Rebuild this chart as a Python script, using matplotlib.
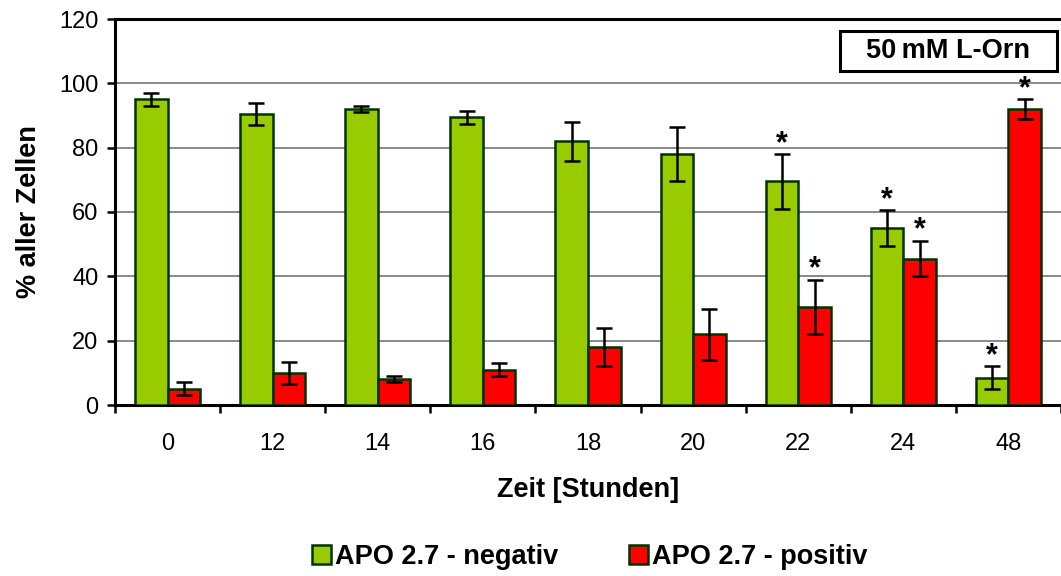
import numpy as np
import matplotlib.pyplot as plt
from matplotlib.patches import Rectangle

plt.rcParams['font.family'] = ['Liberation Sans', 'DejaVu Sans']

zeiten = ['0', '12', '14', '16', '18', '20', '22', '24', '48']
negativ = [95, 90.5, 92, 89.5, 82, 78, 69.5, 55, 8.5]
negativ_err = [2, 3.5, 1, 2, 6, 8.5, 8.5, 5.5, 3.5]
positiv = [5, 10, 8, 11, 18, 22, 30.5, 45.5, 92]
positiv_err = [2, 3.5, 1, 2, 6, 8, 8.5, 5.5, 3]
sig_neg = [False, False, False, False, False, False, True, True, True]
sig_pos = [False, False, False, False, False, False, True, True, True]

fig = plt.figure(figsize=(10.61, 5.76), dpi=100)
ax = fig.add_axes([115 / 1061, 1 - 405 / 576, 1 - 115 / 1061, (405 - 19) / 576])

x = np.arange(len(zeiten))
w = 0.31
edge = '#003300'
ax.bar(x - w / 2, negativ, w, color='#99CC00', edgecolor=edge, linewidth=1.8,
       label='APO 2.7 - negativ', zorder=3)
ax.bar(x + w / 2, positiv, w, color='#FF0000', edgecolor=edge, linewidth=1.8,
       label='APO 2.7 - positiv', zorder=3)
ax.errorbar(x - w / 2, negativ, yerr=negativ_err, fmt='none', ecolor='black',
            elinewidth=1.8, capsize=6, capthick=1.8, zorder=4)
ax.errorbar(x + w / 2, positiv, yerr=positiv_err, fmt='none', ecolor='black',
            elinewidth=1.8, capsize=6, capthick=1.8, zorder=4)

# significance stars just above the error bars
for i in range(len(zeiten)):
    if sig_neg[i]:
        ax.text(x[i] - w / 2, negativ[i] + negativ_err[i] + 3.2, '*', ha='center',
                va='center', fontsize=22, fontweight='bold')
    if sig_pos[i]:
        ax.text(x[i] + w / 2, positiv[i] + positiv_err[i] + 3.2, '*', ha='center',
                va='center', fontsize=22, fontweight='bold')

ax.set_xlim(-0.5, len(zeiten) - 0.5)
ax.set_ylim(0, 120)
ax.set_yticks(range(0, 121, 20))
ax.tick_params(axis='y', labelsize=17, direction='out', length=6, width=1.8, pad=6)
ax.set_xticks(x)
ax.set_xticklabels(zeiten, fontsize=17)
ax.tick_params(axis='x', length=0, pad=20)
ax.set_xticks(np.arange(-0.5, len(zeiten), 1), minor=True)
ax.tick_params(axis='x', which='minor', direction='out', length=6, width=1.8)

ax.yaxis.grid(True, color='#808080', linewidth=1.3, zorder=0)
ax.set_axisbelow(True)
for s in ['left', 'bottom', 'top']:
    ax.spines[s].set_linewidth(2.2)
ax.spines['right'].set_visible(False)

ax.set_xlabel('Zeit [Stunden]', fontsize=19.5, fontweight='bold', labelpad=16)
ax.set_ylabel('% aller Zellen', fontsize=19.5, fontweight='bold', labelpad=12)

# label box in the upper right
ax.add_patch(Rectangle((0.766, 0.865), 0.23, 0.104, transform=ax.transAxes,
                       facecolor='white', edgecolor='black', linewidth=2.2,
                       zorder=5))
ax.text(0.881, 0.917, '50\u2009mM L-Orn', transform=ax.transAxes, ha='center',
        va='center', fontsize=19.5, fontweight='bold', zorder=6)

fig.legend(loc='center', bbox_to_anchor=(0.556, 1 - 557 / 576), ncol=2,
           frameon=False, prop={'size': 19.5, 'weight': 'bold'},
           handlelength=0.7, handleheight=0.7, handletextpad=0.15,
           columnspacing=2.6)

fig.savefig('out.png', dpi=100)
